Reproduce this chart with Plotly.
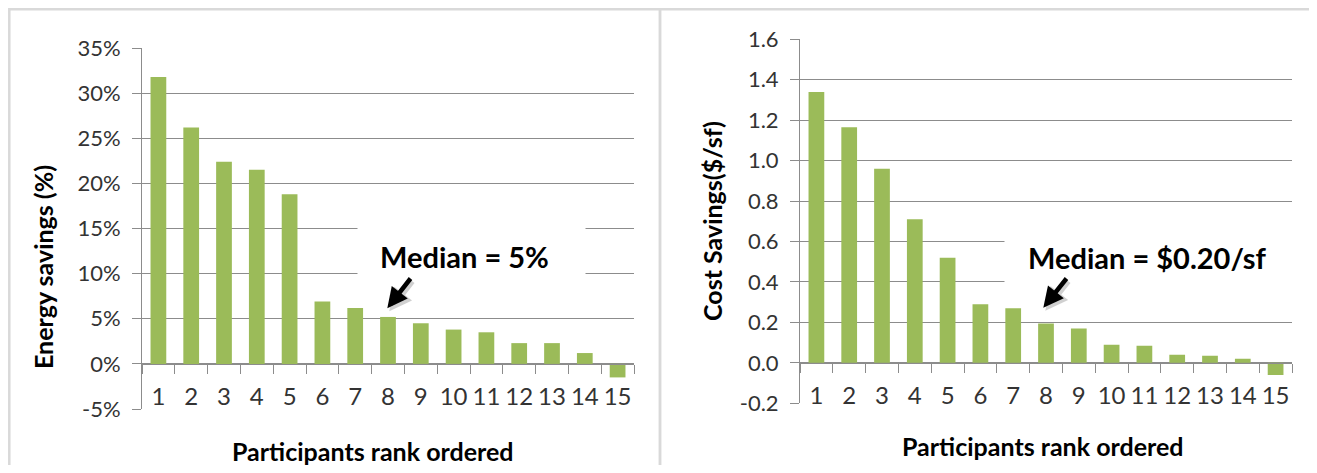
import plotly.graph_objects as go

# ---------------- data ----------------
ranks = [str(i) for i in range(1, 16)]
energy_savings_pct = [31.8, 26.2, 22.4, 21.5, 18.8, 6.9, 6.2, 5.2, 4.5, 3.8, 3.5, 2.3, 2.3, 1.2, -1.5]
cost_savings_per_sf = [1.34, 1.165, 0.96, 0.71, 0.52, 0.29, 0.27, 0.195, 0.17, 0.09, 0.085, 0.04, 0.035, 0.02, -0.06]

energy_ticks = [-5, 0, 5, 10, 15, 20, 25, 30, 35]
energy_tick_labels = ["-5%", "0%", "5%", "10%", "15%", "20%", "25%", "30%", "35%"]
cost_ticks = [-0.2, 0.0, 0.2, 0.4, 0.6, 0.8, 1.0, 1.2, 1.4, 1.6]
cost_tick_labels = ["-0.2", "0.0", "0.2", "0.4", "0.6", "0.8", "1.0", "1.2", "1.4", "1.6"]

energy_range = [-5, 35]
cost_range = [-0.2, 1.6]

left_y_title = "Energy savings (%)"
right_y_title = "Cost Savings($/sf)"
x_title = "Participants rank ordered"
left_note = "Median = 5%"
right_note = "Median = $0.20/sf"

# ---------------- styling ----------------
PAGE_OFF = 8                      # browser default body margin
W, H = 1317 - 2 * PAGE_OFF, 473 - 2 * PAGE_OFF
FONT = "Lato"
BAR = "#9BBB59"
GRID = "#8C8C8C"
TICKTXT = "#333333"


def px(x):
    return (x - PAGE_OFF) / W


def py(y):
    return 1 - (y - PAGE_OFF) / H


L_dom_x = [px(142), px(634)]
L_dom_y = [py(409), py(48)]
R_dom_x = [px(800), px(1292)]
R_dom_y = [py(403.3), py(39.3)]


def zero_pos(dom, rng):
    return dom[0] + (0 - rng[0]) / (rng[1] - rng[0]) * (dom[1] - dom[0])


fig = go.Figure()
fig.add_trace(go.Bar(x=ranks, y=energy_savings_pct, marker=dict(color=BAR, line=dict(width=0)),
                     xaxis="x", yaxis="y", showlegend=False))
fig.add_trace(go.Bar(x=ranks, y=cost_savings_per_sf, marker=dict(color=BAR, line=dict(width=0)),
                     xaxis="x2", yaxis="y2", showlegend=False))

xcommon = dict(type="category", anchor="free", tickson="boundaries", ticks="outside", ticklen=9,
               tickcolor=GRID, tickwidth=1, showline=True, linecolor=GRID, linewidth=1,
               showgrid=False, zeroline=False, tickfont=dict(family=FONT, size=24, color=TICKTXT),
               tickangle=0, ticklabelstandoff=11, automargin=False, fixedrange=True)
ycommon = dict(ticks="outside", ticklen=9, tickcolor=GRID, tickwidth=1, showline=True, linecolor=GRID,
               linewidth=1, showgrid=True, gridcolor=GRID, gridwidth=1, zeroline=False,
               tickfont=dict(family=FONT, size=22, color=TICKTXT), ticklabelstandoff=7,
               automargin=False, fixedrange=True, tickmode="array")

fig.update_layout(
    width=W, height=H,
    margin=dict(l=0, r=0, t=0, b=0, autoexpand=False),
    paper_bgcolor="white", plot_bgcolor="white",
    bargap=0.52,
    showlegend=False,
    xaxis=dict(domain=L_dom_x, position=zero_pos(L_dom_y, energy_range), **xcommon),
    yaxis=dict(domain=L_dom_y, anchor="x", range=energy_range, tickvals=energy_ticks,
               ticktext=energy_tick_labels, **ycommon),
    xaxis2=dict(domain=R_dom_x, position=zero_pos(R_dom_y, cost_range), **xcommon),
    yaxis2=dict(domain=R_dom_y, anchor="x2", range=cost_range, tickvals=cost_ticks,
                ticktext=cost_tick_labels, **ycommon),
)

# panel borders
border = dict(color="#D9D9D9", width=2.5)
fig.add_shape(type="rect", xref="paper", yref="paper", x0=px(9.3), x1=px(660), y0=-0.2, y1=py(9.3), line=border)
fig.add_shape(type="rect", xref="paper", yref="paper", x0=px(660), x1=1.2, y0=-0.2, y1=py(9.3), line=border)

# axis titles
title_font = dict(family=FONT, size=25, color="black")
fig.add_annotation(text="<b>%s</b>" % left_y_title, xref="paper", yref="paper", x=px(43), y=py(267),
                   textangle=-90, showarrow=False, font=title_font, xanchor="center", yanchor="middle")
fig.add_annotation(text="<b>%s</b>" % right_y_title, xref="paper", yref="paper", x=px(712), y=py(221),
                   textangle=-90, showarrow=False, font=title_font, xanchor="center", yanchor="middle")
fig.add_annotation(text="<b>%s</b>" % x_title, xref="paper", yref="paper", x=px(373), y=py(451),
                   showarrow=False, font=title_font, xanchor="center", yanchor="middle")
fig.add_annotation(text="<b>%s</b>" % x_title, xref="paper", yref="paper", x=px(1043), y=py(446),
                   showarrow=False, font=title_font, xanchor="center", yanchor="middle")

# median callouts: white boxes, text and arrows
note_font = dict(family=FONT, size=29, color="black")
for (bx0, bx1, ty) in [(358, 585, 256), (1005, 1300, 258)]:
    fig.add_annotation(text=" ", xref="paper", yref="paper", x=px((bx0 + bx1) / 2), y=py(ty),
                       width=bx1 - bx0, height=70, bgcolor="white", borderpad=0, showarrow=False,
                       xanchor="center", yanchor="middle")
for (tx, ty, txt) in [(464, 256, left_note), (1147, 258, right_note)]:
    fig.add_annotation(text="<b>%s</b>" % txt, xref="paper", yref="paper", x=px(tx), y=py(ty),
                       showarrow=False, font=note_font, xanchor="center", yanchor="middle")
for (tip, tail) in [((387.3, 308.3), (411.7, 277)), ((1043.3, 307.7), (1067.7, 277))]:
    # soft shadow
    fig.add_annotation(text="", xref="paper", yref="paper", x=px(tip[0] + 2), y=py(tip[1] + 3),
                       ax=tail[0] - tip[0], ay=tail[1] - tip[1], showarrow=True, arrowhead=2,
                       arrowsize=0.9, arrowwidth=5, arrowcolor="rgba(0,0,0,0.18)")
    fig.add_annotation(text="", xref="paper", yref="paper", x=px(tip[0]), y=py(tip[1]),
                       ax=tail[0] - tip[0], ay=tail[1] - tip[1], showarrow=True, arrowhead=2,
                       arrowsize=0.9, arrowwidth=4.5, arrowcolor="black")

fig.write_html("out.html")
